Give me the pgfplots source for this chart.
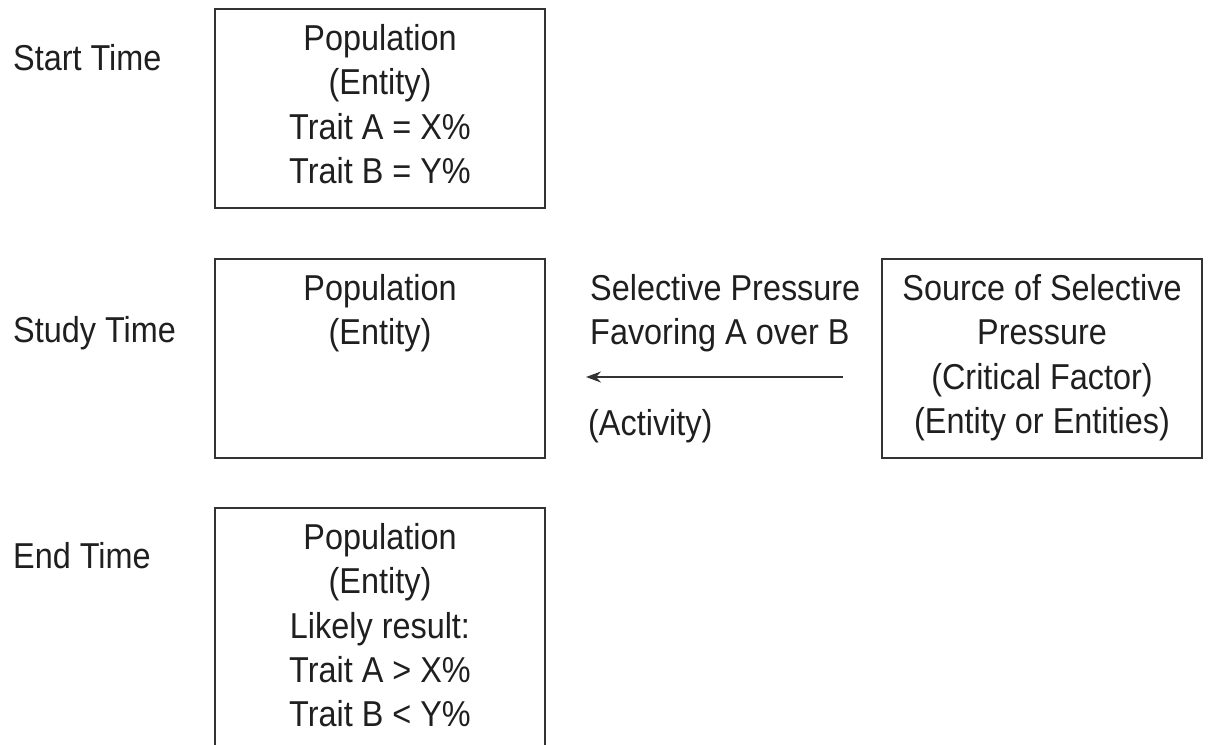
\documentclass[border=0pt]{standalone}
\usepackage{fontspec}
\setmainfont[FakeStretch=0.9]{Liberation Sans}
\usepackage{pgfplots}
\pgfplotsset{compat=1.18}
\usetikzlibrary{arrows.meta}
\definecolor{txt}{HTML}{1F1F1F}
\definecolor{ln}{HTML}{333333}
\newcommand{\fs}{\fontsize{36}{44}\selectfont}
\begin{document}
\begin{tikzpicture}
\begin{axis}[width=1212pt,height=744pt,scale only axis,
  xmin=0,xmax=1212,ymin=0,ymax=744,y dir=reverse,
  hide axis, clip=false]
% boxes
\addplot[mark=none, line width=1.6pt, color=ln] coordinates {(215,9) (545,9) (545,208) (215,208)} -- cycle;
\addplot[mark=none, line width=1.6pt, color=ln] coordinates {(215,259) (545,259) (545,458) (215,458)} -- cycle;
\addplot[mark=none, line width=1.6pt, color=ln, line join=miter] coordinates {(215,748) (215,508) (545,508) (545,748)};
\addplot[mark=none, line width=1.6pt, color=ln] coordinates {(882,259) (1202,259) (1202,458) (882,458)} -- cycle;
% arrow
\addplot[mark=none, line width=1.4pt, color=ln, -{Stealth[length=15pt,width=11pt]}] coordinates {(843,377) (586,377)};
% left labels
\node[anchor=base west, font=\fs, text=txt, inner sep=0pt] at (axis cs:13,70) {Start Time};
\node[anchor=base west, font=\fs, text=txt, inner sep=0pt] at (axis cs:13,342) {Study Time};
\node[anchor=base west, font=\fs, text=txt, inner sep=0pt] at (axis cs:13,568) {End Time};
% box 1
\node[anchor=base, font=\fs, text=txt, inner sep=0pt] at (axis cs:380,50) {Population};
\node[anchor=base, font=\fs, text=txt, inner sep=0pt] at (axis cs:380,94.5) {(Entity)};
\node[anchor=base, font=\fs, text=txt, inner sep=0pt] at (axis cs:380,139) {Trait A = X\%};
\node[anchor=base, font=\fs, text=txt, inner sep=0pt] at (axis cs:380,183) {Trait B = Y\%};
% box 2
\node[anchor=base, font=\fs, text=txt, inner sep=0pt] at (axis cs:380,300) {Population};
\node[anchor=base, font=\fs, text=txt, inner sep=0pt] at (axis cs:380,344.5) {(Entity)};
% box 3
\node[anchor=base, font=\fs, text=txt, inner sep=0pt] at (axis cs:380,549) {Population};
\node[anchor=base, font=\fs, text=txt, inner sep=0pt] at (axis cs:380,593.5) {(Entity)};
\node[anchor=base, font=\fs, text=txt, inner sep=0pt] at (axis cs:380,638) {Likely result:};
\node[anchor=base, font=\fs, text=txt, inner sep=0pt] at (axis cs:380,682) {Trait A > X\%};
\node[anchor=base, font=\fs, text=txt, inner sep=0pt] at (axis cs:380,726.5) {Trait B < Y\%};
% middle text
\node[anchor=base west, font=\fs, text=txt, inner sep=0pt] at (axis cs:590,300) {Selective Pressure};
\node[anchor=base west, font=\fs, text=txt, inner sep=0pt] at (axis cs:590,344.5) {Favoring A over B};
\node[anchor=base west, font=\fs, text=txt, inner sep=0pt] at (axis cs:588,435) {(Activity)};
% box 4
\node[anchor=base, font=\fs, text=txt, inner sep=0pt] at (axis cs:1042,300) {Source of Selective};
\node[anchor=base, font=\fs, text=txt, inner sep=0pt] at (axis cs:1042,344.5) {Pressure};
\node[anchor=base, font=\fs, text=txt, inner sep=0pt] at (axis cs:1042,389) {(Critical Factor)};
\node[anchor=base, font=\fs, text=txt, inner sep=0pt] at (axis cs:1042,433.5) {(Entity or Entities)};
\end{axis}
\pgfresetboundingbox
\path (current axis.south west) rectangle (current axis.north east);
\end{tikzpicture}
\end{document}
